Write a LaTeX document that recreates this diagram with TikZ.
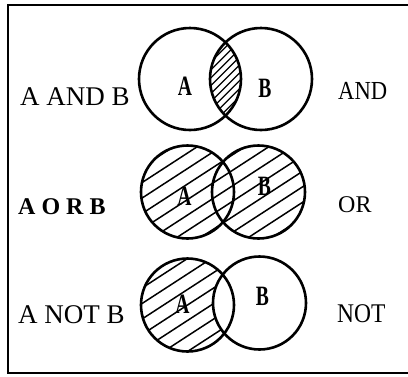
\documentclass[tikz,border=0pt]{standalone}
\usepackage{fontspec}
\setmainfont{Liberation Serif}
\newcommand\myhatch[5]{%
  \foreach \k in {-#5,...,#5}{%
    \draw ({#1+\k*#4*sin(#3)-95*cos(#3)},{#2+\k*#4*cos(#3)+95*sin(#3)}) -- ({#1+\k*#4*sin(#3)+95*cos(#3)},{#2+\k*#4*cos(#3)-95*sin(#3)});
  }}
\begin{document}
\begin{tikzpicture}[x=1pt,y=-1pt,
  ring/.style={line width=2.6pt},
  frame/.style={line width=2.4pt},
  hatchfine/.style={line width=1.2pt},
  hatchwide/.style={line width=1.5pt},
  lbl/.style={inner sep=0pt,anchor=base west,font=\fontsize{27}{30}\selectfont},
  lblsm/.style={inner sep=0pt,anchor=base west,font=\fontsize{24}{28}\selectfont},
  setname/.style={inner sep=0pt,anchor=base,font=\bfseries\fontsize{28}{32}\selectfont}]
\useasboundingbox (0,0) rectangle (408,376);
% frame
\draw[frame] (408,5) -- (8,5) -- (8,373) -- (408,373);

% ---- row 1: AND ----
\begin{scope}[hatchfine]
  \clip (190,79) circle (51);
  \clip (261,79) circle (51);
  \myhatch{225.5}{79}{45}{5.6}{20}
\end{scope}
\draw[ring] (190,79) circle (51);
\draw[ring] (261,79) circle (51);
\node[setname] (a1) at (185,95) {\scalebox{0.7}[1]{A}};
\node[setname] (b1) at (265,97) {\scalebox{0.7}[1]{B}};
\node[lbl] (t1) at (20,105) {A AND B};
\node[lbl,font=\fontsize{26}{30}\selectfont] (r1) at (338,99) {\scalebox{0.87}[1]{AND}};

% ---- row 2: OR ----
\begin{scope}[hatchwide]
  \clip (187.5,192) circle (46.5) (258.5,192) circle (46.5);
  \myhatch{223}{192}{33}{13}{9}
\end{scope}
\draw[ring] (187.5,192) circle (46.5);
\draw[ring] (258.5,192) circle (46.5);
\node[setname] (a2) at (184.5,205) {\scalebox{0.7}[1]{A}};
\node[setname] (b2) at (264.5,195) {\scalebox{0.7}[1]{B}};
\node[lblsm,font=\bfseries\fontsize{24}{28}\selectfont] (t2) at (18,214) {A O R B};
\node[lblsm] (r2) at (338,212) {OR};

% ---- row 3: NOT ----
\begin{scope}[hatchwide]
  \clip (187.5,305) circle (46.5);
  \begin{scope}[even odd rule]
    \clip (100,200) rectangle (320,370) (259.5,303) circle (46.5);
    \myhatch{187.5}{305}{33}{13}{6}
  \end{scope}
\end{scope}
\draw[ring] (187.5,305) circle (46.5);
\draw[ring] (259.5,303) circle (46.5);
\node[setname] (a3) at (182.5,313) {\scalebox{0.7}[1]{A}};
\node[setname] (b3) at (262.5,305) {\scalebox{0.7}[1]{B}};
\node[lbl] (t3) at (18,323) {A NOT B};
\node[lbl] (r3) at (337,322) {\scalebox{0.87}[1]{NOT}};
\end{tikzpicture}
\end{document}
